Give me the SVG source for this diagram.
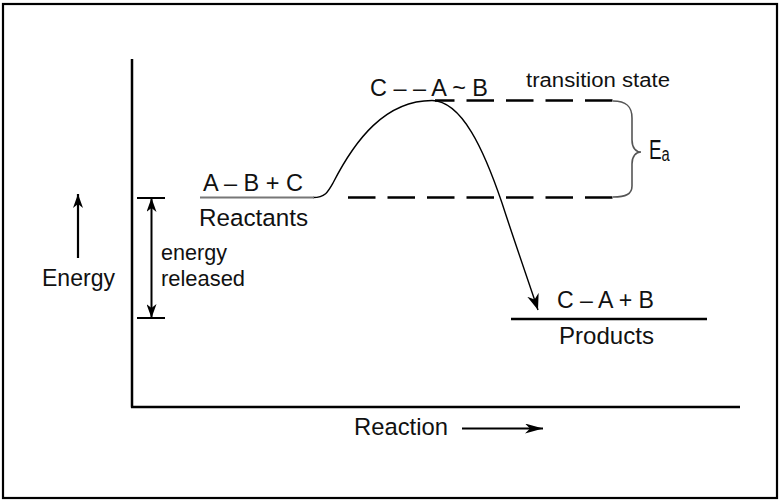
<svg xmlns="http://www.w3.org/2000/svg" width="782" height="503" viewBox="0 0 782 503">
<defs>
<style>
text{font-family:"Liberation Sans",Arial,sans-serif;fill:#111;}
.t24{font-size:24.5px;}
.t22{font-size:22px;}
.t20{font-size:20px;}
.ax{stroke:#000;stroke-width:2.5;fill:none;}
.dash{stroke:#000;stroke-width:2.5;stroke-dasharray:27.5 12;fill:none;}
.thin{stroke:#000;stroke-width:1.4;fill:none;}
</style>
<marker id="ah" viewBox="0 0 16 12" refX="16" refY="6" markerWidth="16" markerHeight="12" markerUnits="userSpaceOnUse" orient="auto">
<path d="M0,0 L16,6 L0,12 L5,6 z" fill="#000"/>
</marker>
<marker id="ahs" viewBox="0 0 14 10" refX="14" refY="5" markerWidth="14" markerHeight="10" markerUnits="userSpaceOnUse" orient="auto">
<path d="M0,0 L14,5 L0,10 L4,5 z" fill="#000"/>
</marker>
<marker id="ahr" viewBox="0 0 18 10" refX="18" refY="5" markerWidth="18" markerHeight="10" markerUnits="userSpaceOnUse" orient="auto">
<path d="M0,0 L18,5 L0,10 L5,5 z" fill="#000"/>
</marker>
</defs>
<rect x="0" y="0" width="782" height="503" fill="#fff"/>
<rect id="frame" x="3" y="4" width="774" height="494" fill="none" stroke="#000" stroke-width="2.2"/>

<g id="axes">
<line class="ax" x1="132" y1="59" x2="132" y2="407.5"/>
<line class="ax" x1="131" y1="407" x2="740" y2="407"/>
</g>

<g id="connectors">
<path id="curve" class="thin" d="M313,197.5 C325,197.5 328,192 333,183 C355,140 385,100.5 432,100.5 C462,101 484,150 502,203 C514,240 528,280 538,310" marker-end="url(#ah)"/>
<line class="dash" x1="348" y1="197.5" x2="613" y2="197.5"/>
<line class="dash" x1="435" y1="100.5" x2="613" y2="100.5" stroke-dashoffset="8"/>
<path id="brace" d="M613,101 C626,101 632,106 632,118 L632,140 C632,148 636,152 641,152 C636,152 632,156 632,164 L632,186 C632,194 626,197 613,197" fill="none" stroke="#555" stroke-width="1.6"/>
<line id="energy-arrow" x1="78" y1="258" x2="78" y2="194" stroke="#000" stroke-width="2.2" marker-end="url(#ahs)"/>
<line id="released-arrow" x1="151.5" y1="258" x2="151.5" y2="198" stroke="#000" stroke-width="2" marker-end="url(#ahs)"/>
<line x1="151.5" y1="258" x2="151.5" y2="318" stroke="#000" stroke-width="2" marker-end="url(#ahs)"/>
<line x1="137" y1="198" x2="165" y2="198" stroke="#000" stroke-width="2"/>
<line x1="137" y1="318" x2="165" y2="318" stroke="#000" stroke-width="2"/>
<line id="reaction-arrow" x1="462" y1="428.5" x2="543" y2="428.5" stroke="#000" stroke-width="2.2" marker-end="url(#ahr)"/>
</g>

<g id="reactants">
<line x1="200" y1="197.5" x2="314" y2="197.5" stroke="#777" stroke-width="2.2"/>
<text class="t24" x="203" y="191" textLength="100" lengthAdjust="spacingAndGlyphs">A – B + C</text>
<text class="t24" x="199" y="226" textLength="109" lengthAdjust="spacingAndGlyphs">Reactants</text>
</g>

<g id="transition-state">
<text class="t24" x="370" y="96" textLength="118" lengthAdjust="spacingAndGlyphs">C – – A ~ B</text>
<text class="t20" x="526" y="87" textLength="144" lengthAdjust="spacingAndGlyphs">transition state</text>
</g>

<g id="ea">
<text transform="translate(649,159) scale(0.7,1)" font-size="27">E<tspan font-size="21" dy="1.5">a</tspan></text>
</g>

<g id="products">
<line x1="511" y1="319" x2="707" y2="319" stroke="#000" stroke-width="2.5"/>
<text class="t24" x="557" y="308" textLength="97" lengthAdjust="spacingAndGlyphs">C – A + B</text>
<text class="t24" x="559" y="344" textLength="95" lengthAdjust="spacingAndGlyphs">Products</text>
</g>

<g id="labels">
<text class="t24" x="42" y="286" textLength="73" lengthAdjust="spacingAndGlyphs">Energy</text>
<text class="t22" x="161" y="260" textLength="66" lengthAdjust="spacingAndGlyphs">energy</text>
<text class="t22" x="161" y="286" textLength="84" lengthAdjust="spacingAndGlyphs">released</text>
<text class="t24" x="354" y="435" textLength="94" lengthAdjust="spacingAndGlyphs">Reaction</text>
</g>
</svg>
